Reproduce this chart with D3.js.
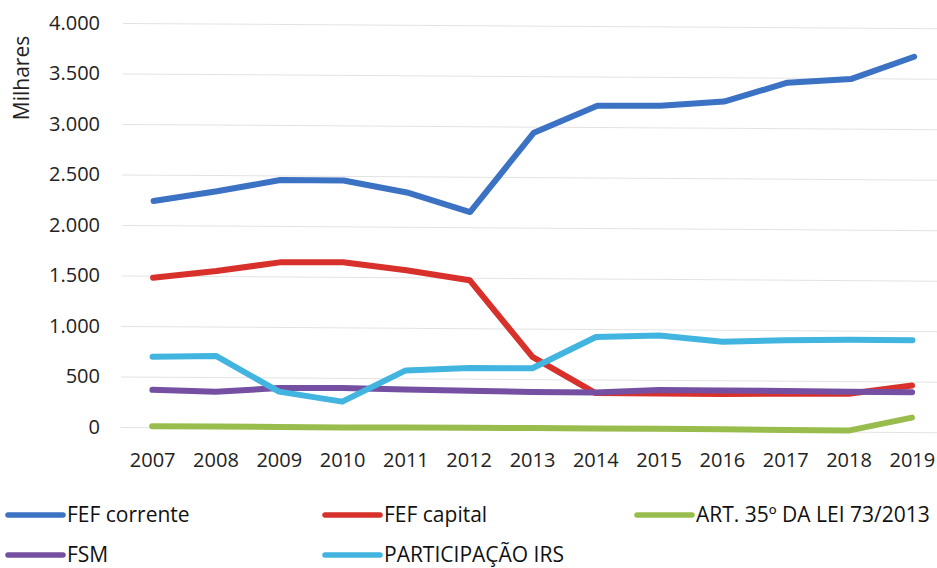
<!DOCTYPE html>
<html>
<head>
<meta charset="utf-8">
<script src="https://cdn.jsdelivr.net/npm/d3@7"></script>
<style>
  body { margin: 0; background: #fff; }
  svg { font-family: "Open Sans", sans-serif; }
</style>
</head>
<body>
<svg width="937" height="568"></svg>
<script>
var years = ['2007','2008','2009','2010','2011','2012','2013','2014','2015','2016','2017','2018','2019'];
var yTicks = [0, 500, 1000, 1500, 2000, 2500, 3000, 3500, 4000];

var fefCorrente = [2240, 2340, 2455, 2455, 2340, 2150, 2940, 3210, 3215, 3260, 3450, 3490, 3715];
var fefCapital  = [1480, 1550, 1640, 1645, 1570, 1475, 720, 365, 365, 365, 370, 375, 460];
var art35       = [10, 10, 10, 10, 12, 14, 15, 15, 15, 14, 12, 10, 142];
var fsm         = [370, 355, 395, 400, 390, 380, 372, 370, 400, 400, 398, 395, 393];
var irs         = [698, 710, 360, 265, 578, 605, 608, 920, 940, 882, 900, 910, 908];

var seriesNames  = ['FEF corrente', 'FEF capital', 'ART. 35º DA LEI 73/2013', 'FSM', 'PARTICIPAÇÃO IRS'];
var seriesValues = [fefCorrente, fefCapital, art35, fsm, irs];
var seriesColors = ['#3c72c4', '#d8302b', '#99bd4c', '#7550a2', '#41b4df'];

window.onload = function(){

  var svg = d3.select('svg');

  var x = d3.scalePoint().domain(years).range([120.5, 943.5]).padding(0.5);
  var y = d3.scaleLinear().domain([0, 4000]).range([427, 23]);

  // the scanned chart is tilted a little, clockwise
  var plot = svg.append('g')
                .attr('transform', 'rotate(0.36, 120, 427)');

  plot.append('g')
      .attr('class', 'grid')
      .call(d3.axisLeft(y).tickValues(yTicks).tickSize(-823).tickFormat(''))
      .attr('transform', 'translate(120.5,0)')
      .call(function(g){
        g.select('.domain').remove();
        g.selectAll('line').attr('stroke', '#e3e3e3').attr('stroke-width', 1);
      });

  var line = d3.line()
               .x(function(d, i){ return x(years[i]) })
               .y(function(d){ return y(d) });

  plot.selectAll('path.series')
      .data(seriesValues)
      .enter()
      .append('path')
        .attr('class', 'series')
        .attr('d', line)
        .attr('fill', 'none')
        .attr('stroke', function(d, i){ return seriesColors[i] })
        .attr('stroke-width', 6)
        .attr('stroke-linejoin', 'round')
        .attr('stroke-linecap', 'round');

  // y tick labels
  svg.append('g')
     .attr('transform', 'translate(100,0)')
     .call(d3.axisLeft(y).tickValues(yTicks).tickSize(0).tickPadding(0)
             .tickFormat(function(d){ return d3.format(',')(d).replace(',', '.') }))
     .call(function(g){
       g.select('.domain').remove();
       g.selectAll('text').attr('font-family', '"Open Sans", sans-serif')
        .attr('font-size', 20).attr('fill', '#222');
     });

  // x tick labels
  svg.append('g')
     .attr('transform', 'translate(0,452)')
     .call(d3.axisBottom(x).tickSize(0).tickPadding(0))
     .call(function(g){
       g.select('.domain').remove();
       g.selectAll('text').attr('font-family', '"Open Sans", sans-serif')
        .attr('font-size', 20).attr('fill', '#222').attr('dy', '0.75em');
     });

  svg.append('text')
     .attr('transform', 'translate(29,78) rotate(-90)')
     .attr('text-anchor', 'middle')
     .attr('font-size', 21)
     .attr('fill', '#222')
     .text('Milhares');

  // legend
  var legendX = [8, 325, 637, 8, 325];
  var legendY = [515, 515, 515, 555, 555];

  var items = svg.selectAll('g.legend')
                 .data(seriesNames)
                 .enter()
                 .append('g')
                   .attr('class', 'legend')
                   .attr('transform', function(d, i){ return 'translate(' + legendX[i] + ',' + legendY[i] + ')' });

  items.append('line')
       .attr('x1', 0).attr('x2', 55)
       .attr('stroke', function(d, i){ return seriesColors[i] })
       .attr('stroke-width', 5.5)
       .attr('stroke-linecap', 'round');

  items.append('text')
       .attr('x', 59)
       .attr('dy', '0.35em')
       .attr('font-size', 21)
       .attr('fill', '#111')
       .text(function(d){ return d });

}
</script>
</body>
</html>
